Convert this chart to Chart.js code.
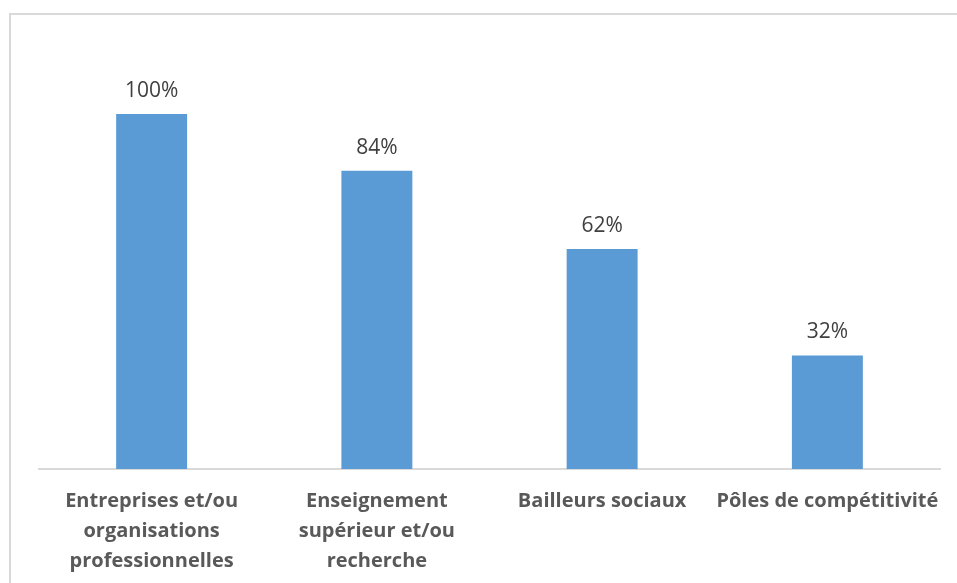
<!DOCTYPE html>
<html>
<head>
<meta charset="utf-8">
<script src="https://cdn.jsdelivr.net/npm/chart.js@4"></script>
<style>
    html, body { margin: 0; padding: 0; background: #fff; }
    #wrap { position: relative; width: 957px; height: 583px; }
</style>
</head>
<body>
<div id="wrap"><canvas id="chart" width="957" height="583"></canvas></div>
<script>
const categories = [
    ['Entreprises et/ou', 'organisations', 'professionnelles'],
    ['Enseignement', 'supérieur et/ou', 'recherche'],
    ['Bailleurs sociaux'],
    ['Pôles de compétitivité']
];
const values = [100, 84, 62, 32];
const valueLabels = ['100%', '84%', '62%', '32%'];

const frame = {
    id: 'frame',
    beforeDraw(chart) {
        const ctx = chart.ctx;
        ctx.save();
        ctx.strokeStyle = '#d9d9d9';
        ctx.lineWidth = 2;
        ctx.strokeRect(10, 14, 980, 620);
        ctx.restore();
    }
};

const barLabels = {
    id: 'barLabels',
    afterDatasetsDraw(chart) {
        const ctx = chart.ctx;
        const meta = chart.getDatasetMeta(0);
        ctx.save();
        ctx.font = '21px "Open Sans"';
        ctx.fillStyle = '#404040';
        ctx.textAlign = 'center';
        ctx.textBaseline = 'alphabetic';
        meta.data.forEach((bar, i) => {
            ctx.fillText(valueLabels[i], bar.x, bar.y - 17);
        });
        ctx.restore();
    }
};

new Chart(document.getElementById('chart'), {
    type: 'bar',
    data: {
        labels: categories,
        datasets: [{
            data: values,
            backgroundColor: '#5b9bd5',
            categoryPercentage: 1,
            barPercentage: 0.315
        }]
    },
    options: {
        responsive: false,
        animation: false,
        layout: { padding: { left: 39, right: 17, top: 43, bottom: 0 } },
        plugins: { legend: { display: false }, tooltip: { enabled: false } },
        scales: {
            x: {
                grid: { display: false },
                border: { display: true, color: '#d9d9d9', width: 2 },
                ticks: {
                    color: '#595959',
                    font: { family: 'Open Sans', size: 20, weight: 'bold', lineHeight: '30px' },
                    maxRotation: 0,
                    autoSkip: false,
                    padding: 9
                },
                afterFit(scale) {
                    scale.height = 114;
                }
            },
            y: {
                display: false,
                min: 0,
                max: 120
            }
        }
    },
    plugins: [frame, barLabels]
});
</script>
</body>
</html>
